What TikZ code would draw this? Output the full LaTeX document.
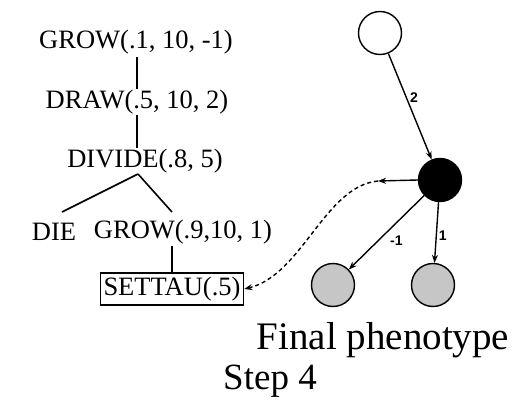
\documentclass[tikz,border=0pt]{standalone}
\usepackage{fontspec}
\setmainfont{Liberation Serif}
\newfontfamily\lblfont{Liberation Sans}
\usetikzlibrary{arrows.meta}
\begin{document}
\begin{tikzpicture}[x=1pt,y=-1pt,
  tree/.style={inner sep=0pt,font=\fontsize{26.5}{28}\selectfont},
  treeline/.style={line width=1.6pt},
  cell/.style={circle,draw,line width=1.4pt,minimum size=43pt,inner sep=0pt},
  arr/.style={line width=1.4pt,-{Stealth[length=8pt,width=6pt]}},
  lbl/.style={font=\lblfont\bfseries\fontsize{14}{15}\selectfont,inner sep=1pt}]
\useasboundingbox (0,0) rectangle (515,407);
% tree
\node[tree] (g1) at (136,42) {GROW(.1, 10, -1)};
\node[tree] (d1) at (137,102) {DRAW(.5, 10, 2)};
\node[tree] (dv) at (145,161) {DIVIDE(.8, 5)};
\node[tree] (die) at (54,232) {DIE};
\node[tree] (g2) at (183,232) {GROW(.9,10, 1)};
\node[tree,draw,line width=1.6pt,inner xsep=3pt,inner ysep=4pt] (st) at (172,289) {SETTAU(.5)};
\coordinate (dvb) at (138,174);
\draw[treeline] (137,57) -- (137,89);
\draw[treeline] (137,115) -- (137,148);
\draw[treeline] (dvb) -- (62,212);
\draw[treeline] (dvb) -- (172,212);
\draw[treeline] (172,246) -- (st.north);
% cells
\node[cell] (top) at (380,33) {};
\node[cell,fill=black] (mid) at (440,180) {};
\node[cell,fill=gray!45] (bl) at (333,285) {};
\node[cell,fill=gray!45] (br) at (433,285) {};
\draw[arr] (top) -- (mid) node[lbl,pos=0.42,right=2pt] {2};
\draw[arr] (mid) -- (bl) node[lbl,pos=0.5,below right=2pt] {-1};
\draw[arr] (mid) -- (br) node[lbl,pos=0.55,right=1pt] {1};
\coordinate (lp) at (378,181);
\draw[arr] (mid.west) -- (lp);
\draw[line width=1.4pt,dash pattern=on 4pt off 3pt,-{Stealth[length=8pt,width=6pt]}]
  (lp) .. controls (325,186) and (302,275) .. (st.east);
\node[font=\fontsize{39}{42}\selectfont,inner sep=0pt] (fp) at (383,340) {Final phenotype};
\node[font=\fontsize{37}{40}\selectfont,inner sep=0pt] (s4) at (270,381) {Step 4};
\end{tikzpicture}
\end{document}
